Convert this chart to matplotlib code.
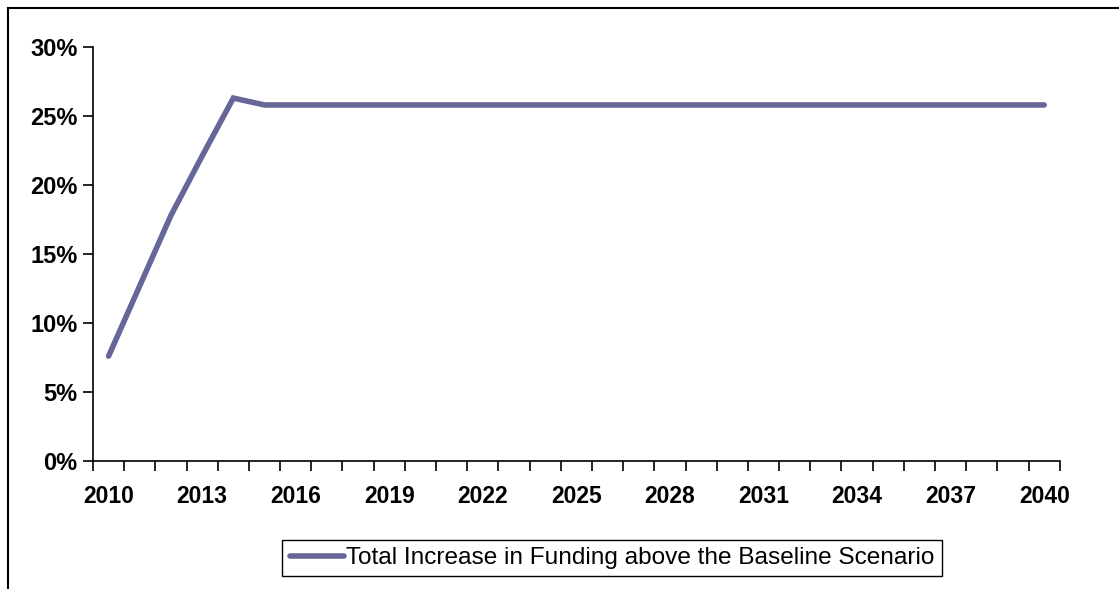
import matplotlib
matplotlib.use('Agg')
import matplotlib.pyplot as plt
from matplotlib.lines import Line2D
from matplotlib.ticker import FuncFormatter, FixedLocator

years = list(range(2010, 2041))
# funding increase over baseline, percent
increase = [7.6, 12.7, 17.8, 22.1, 26.3] + [25.8] * 26
label_years = years[::3]
series_name = 'Total Increase in Funding above the Baseline Scenario'

plt.rcParams['font.family'] = ['Liberation Sans', 'DejaVu Sans']

fig = plt.figure(figsize=(11.19, 5.89), dpi=100)
ax = fig.add_axes([0.0831, 0.2173, 0.864, 0.7029])

x = list(range(len(years)))
ax.plot(x, increase, color='#666699', lw=4.0, solid_capstyle='round',
        solid_joinstyle='miter', label=series_name)

ax.set_xlim(-0.5, len(years) - 0.5)
ax.set_ylim(0, 30)

# category boundaries get the tick marks, labels sit on the centres
ax.xaxis.set_major_locator(FixedLocator([i - 0.5 for i in range(len(years) + 1)]))
ax.xaxis.set_major_formatter(FuncFormatter(lambda v, p: ''))
ax.xaxis.set_minor_locator(FixedLocator([years.index(y) for y in label_years]))
ax.xaxis.set_minor_formatter(FuncFormatter(lambda v, p: str(years[int(round(v))])))
ax.tick_params(axis='x', which='major', direction='out', length=7, width=1.2)
ax.tick_params(axis='x', which='minor', length=0, pad=17, labelsize=16.5)

ax.set_yticks(range(0, 31, 5))
ax.yaxis.set_major_formatter(FuncFormatter(lambda v, p: '%d%%' % v))
ax.tick_params(axis='y', direction='out', length=7, width=1.2, labelsize=17, pad=4)

for lab in ax.get_xticklabels(minor=True) + ax.get_yticklabels():
    lab.set_fontweight('bold')

for side in ['top', 'right']:
    ax.spines[side].set_visible(False)
for side in ['left', 'bottom']:
    ax.spines[side].set_linewidth(1.2)

leg = fig.legend(handles=[Line2D([], [], color='#666699', lw=4.0, solid_capstyle='round')],
                 labels=[series_name], loc='center', bbox_to_anchor=(0.547, 0.0526),
                 fancybox=False, edgecolor='black', framealpha=1, fontsize=17.6,
                 handlelength=2.2, handletextpad=0.1, borderpad=0.3, borderaxespad=0)
leg.get_frame().set_linewidth(1.0)

# outer chart border (top and left edges only)
fig.add_artist(Line2D([8 / 1119, 1], [1 - 8 / 589, 1 - 8 / 589], transform=fig.transFigure,
                      color='black', lw=1.5))
fig.add_artist(Line2D([8 / 1119, 8 / 1119], [0, 1 - 8 / 589], transform=fig.transFigure,
                      color='black', lw=1.5))

fig.savefig('out.png', dpi=100)
